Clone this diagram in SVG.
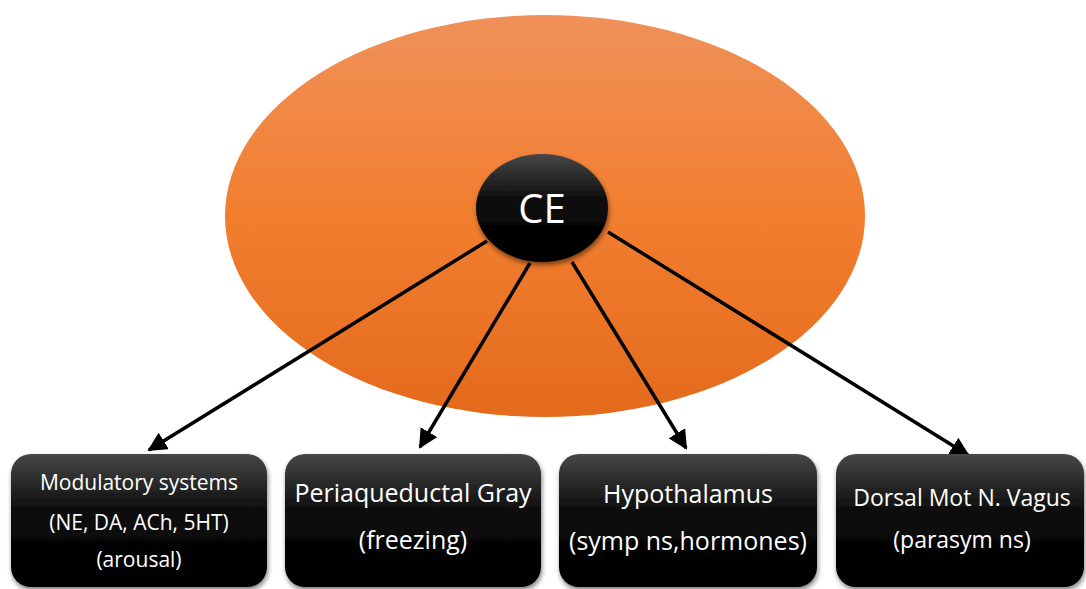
<svg xmlns="http://www.w3.org/2000/svg" width="1086" height="589" viewBox="0 0 1086 589">
<defs>
<linearGradient id="og" x1="0" y1="0" x2="0" y2="1">
<stop offset="0" stop-color="#EF915A"/>
<stop offset="0.5" stop-color="#F27E2F"/>
<stop offset="1" stop-color="#E46A1C"/>
</linearGradient>
<linearGradient id="bg" x1="0" y1="0" x2="0" y2="1">
<stop offset="0" stop-color="#474747"/>
<stop offset="0.45" stop-color="#0a0a0a"/>
<stop offset="1" stop-color="#000"/>
</linearGradient>
<filter id="sh" x="-10%" y="-10%" width="130%" height="130%">
<feGaussianBlur in="SourceAlpha" stdDeviation="2.5"/>
<feOffset dx="1" dy="3" result="b"/>
<feComponentTransfer><feFuncA type="linear" slope="0.5"/></feComponentTransfer>
<feMerge><feMergeNode/><feMergeNode in="SourceGraphic"/></feMerge>
</filter>
<marker id="ah" viewBox="0 0 10 10" refX="9" refY="5" markerWidth="5.5" markerHeight="5.5" markerUnits="strokeWidth" orient="auto">
<path d="M0,0 L10,5 L0,10 z" fill="#000"/>
</marker>
<style>
.box{fill:url(#bg);filter:url(#sh)}
.t{font-family:"Open Sans","Noto Sans","Liberation Sans",sans-serif;fill:#fff;text-anchor:middle}
.c{stroke:#000;stroke-width:3.5;fill:none;marker-end:url(#ah)}
</style>
</defs>
<rect width="1086" height="589" fill="#fff"/>
<g id="region">
<ellipse cx="545" cy="216" rx="320" ry="201" fill="url(#og)"/>
</g>
<g id="connectors">
<line class="c" x1="487" y1="241" x2="149" y2="450"/>
<line class="c" x1="530" y1="263" x2="420" y2="447"/>
<line class="c" x1="572" y1="262" x2="686" y2="448"/>
<line class="c" x1="608" y1="232" x2="968" y2="455"/>
</g>
<g id="ce">
<ellipse cx="542" cy="208" rx="66" ry="54" class="box"/>
<text class="t" x="542" y="223" font-size="40">CE</text>
</g>
<g id="modulatory">
<rect class="box" x="11" y="454" width="256" height="133" rx="20"/>
<text class="t" x="139" y="490" font-size="21">Modulatory systems</text>
<text class="t" x="139" y="530" font-size="21">(NE, DA, ACh, 5HT)</text>
<text class="t" x="139" y="567" font-size="21">(arousal)</text>
</g>
<g id="pag">
<rect class="box" x="285" y="454" width="256" height="133" rx="20"/>
<text class="t" x="413" y="502" font-size="25">Periaqueductal Gray</text>
<text class="t" x="413" y="549" font-size="25">(freezing)</text>
</g>
<g id="hypothalamus">
<rect class="box" x="559" y="454" width="258" height="133" rx="20"/>
<text class="t" x="688" y="503" font-size="25">Hypothalamus</text>
<text class="t" x="688" y="550" font-size="25">(symp ns,hormones)</text>
</g>
<g id="vagus">
<rect class="box" x="836" y="454" width="248" height="133" rx="20"/>
<text class="t" x="962" y="506" font-size="23">Dorsal Mot N. Vagus</text>
<text class="t" x="962" y="548" font-size="23">(parasym ns)</text>
</g>
</svg>
